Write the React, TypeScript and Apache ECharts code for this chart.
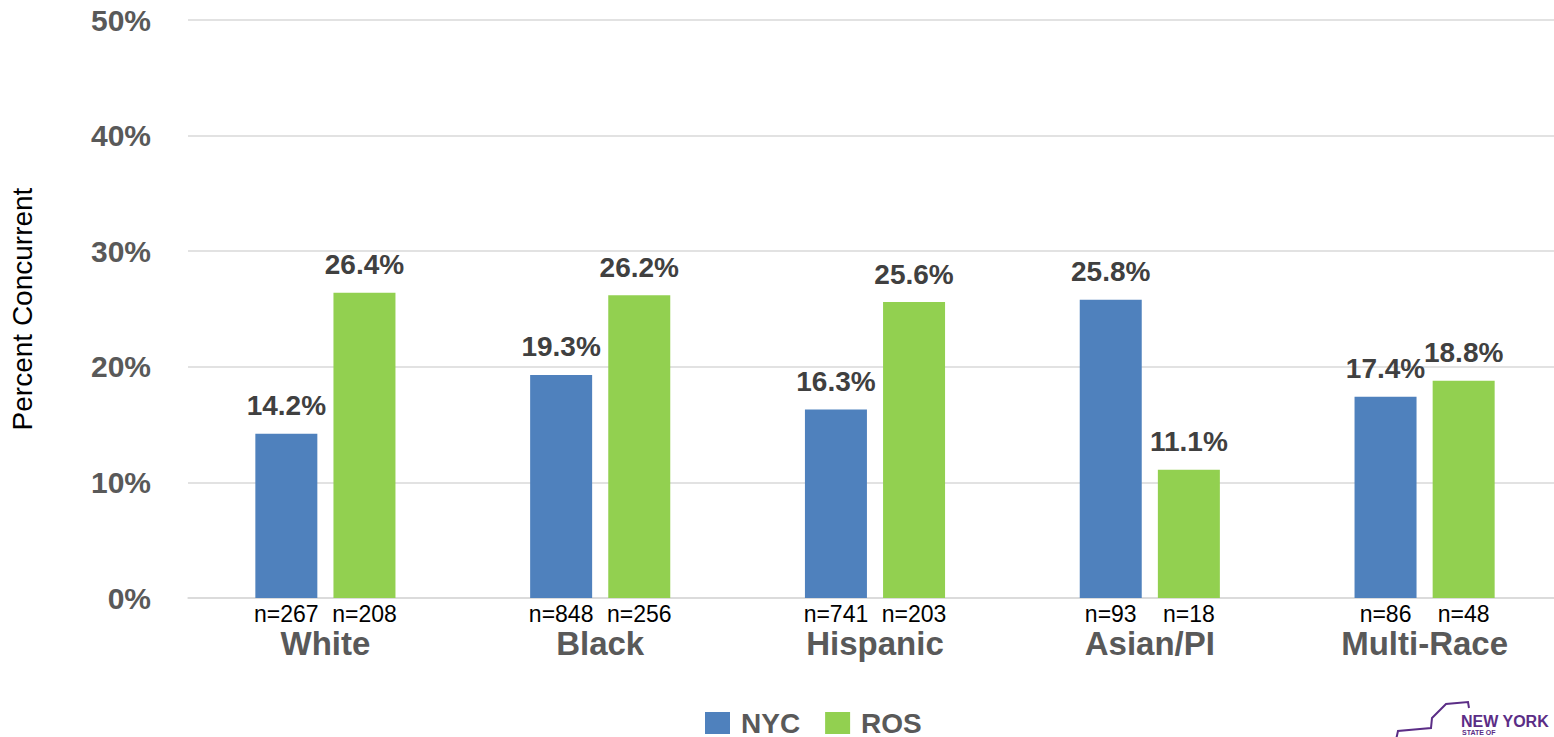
import React, { useEffect, useRef } from "react";
import * as echarts from "echarts";

const categories = ["White", "Black", "Hispanic", "Asian/PI", "Multi-Race"];
const nycValues = [14.2, 19.3, 16.3, 25.8, 17.4];
const rosValues = [26.4, 26.2, 25.6, 11.1, 18.8];
const nycN = [267, 848, 741, 93, 86];
const rosN = [208, 256, 203, 18, 48];
const yTicks = [0, 10, 20, 30, 40, 50];

const FONT = "'Liberation Sans', Arial, sans-serif";
const NYC_COLOR = "#4f81bd";
const ROS_COLOR = "#92d050";

export default function App() {
  const ref = useRef<HTMLDivElement>(null);
  useEffect(() => {
    if (!ref.current) return;
    const chart = echarts.init(ref.current, undefined, { renderer: "svg" });
    const nLabel = (arr: number[]) => ({
      show: true,
      position: "bottom",
      distance: 4,
      color: "#000",
      fontFamily: FONT,
      fontSize: 23,
      formatter: (p: any) => "n=" + arr[p.dataIndex],
    });
    const pctLabel = {
      show: true,
      position: "top",
      distance: 14,
      color: "#404040",
      fontFamily: FONT,
      fontWeight: "bold",
      fontSize: 28,
      formatter: (p: any) => p.value.toFixed(1) + "%",
    };
    chart.setOption({
      animation: false,
      grid: { left: 187, right: 0, top: 20, bottom: 139, containLabel: false },
      legend: {
        data: ["NYC", "ROS"],
        left: 700,
        top: 704,
        itemWidth: 25,
        itemHeight: 22,
        itemGap: 25,
        icon: "rect",
        textStyle: {
          fontFamily: FONT,
          fontWeight: "bold",
          fontSize: 28,
          lineHeight: 28,
          color: "#595959",
          padding: [0, 0, 0, 6],
        },
      },
      xAxis: {
        type: "category",
        data: categories,
        axisLine: { show: true, lineStyle: { color: "#d9d9d9", width: 1.5 } },
        axisTick: { show: false },
        axisLabel: {
          margin: 29,
          fontFamily: FONT,
          fontWeight: "bold",
          fontSize: 33,
          color: "#595959",
          interval: 0,
        },
      },
      yAxis: {
        type: "value",
        min: 0,
        max: 50,
        interval: 10,
        name: "Percent Concurrent",
        nameLocation: "middle",
        nameGap: 152,
        nameRotate: 90,
        nameTextStyle: { fontFamily: FONT, fontSize: 28, color: "#000" },
        axisLine: { show: false },
        axisTick: { show: false },
        splitLine: { lineStyle: { color: "#d9d9d9", width: 1.5 } },
        axisLabel: {
          margin: 37,
          fontFamily: FONT,
          fontWeight: "bold",
          fontSize: 30,
          color: "#595959",
          formatter: (v: number) => (yTicks.includes(v) ? v + "%" : ""),
        },
      },
      series: [
        {
          name: "NYC n",
          type: "bar",
          stack: "nyc",
          data: nycN.map(() => 0),
          barWidth: 62,
          barGap: "26%",
          itemStyle: { color: NYC_COLOR },
          label: nLabel(nycN),
        },
        {
          name: "NYC",
          type: "bar",
          stack: "nyc",
          data: nycValues,
          barWidth: 62,
          barGap: "26%",
          itemStyle: { color: NYC_COLOR },
          label: pctLabel,
        },
        {
          name: "ROS n",
          type: "bar",
          stack: "ros",
          data: rosN.map(() => 0),
          barWidth: 62,
          barGap: "26%",
          itemStyle: { color: ROS_COLOR },
          label: nLabel(rosN),
        },
        {
          name: "ROS",
          type: "bar",
          stack: "ros",
          data: rosValues,
          barWidth: 62,
          barGap: "26%",
          itemStyle: { color: ROS_COLOR },
          label: pctLabel,
        },
      ],
      graphic: [
        {
          type: "polyline",
          shape: {
            points: [
              [1396, 740], [1398, 731], [1420, 729], [1431, 728], [1432, 718],
              [1440, 710], [1446, 704], [1468, 702], [1469, 708],
            ],
          },
          style: { stroke: "#5b2d86", lineWidth: 2, fill: "none" },
        },
        {
          type: "text",
          x: 1461,
          y: 713,
          style: {
            text: "NEW YORK",
            fontFamily: FONT,
            fontWeight: "bold",
            fontSize: 16,
            fill: "#5b2d86",
          },
        },
        {
          type: "text",
          x: 1462,
          y: 729,
          style: {
            text: "STATE OF",
            fontFamily: FONT,
            fontWeight: "bold",
            fontSize: 7,
            fill: "#5b2d86",
          },
        },
      ],
    });
    return () => chart.dispose();
  }, []);
  return (
    <div
      ref={ref}
      style={{ position: "fixed", left: 0, top: 0, width: 1562, height: 737, background: "#fff" }}
    />
  );
}
